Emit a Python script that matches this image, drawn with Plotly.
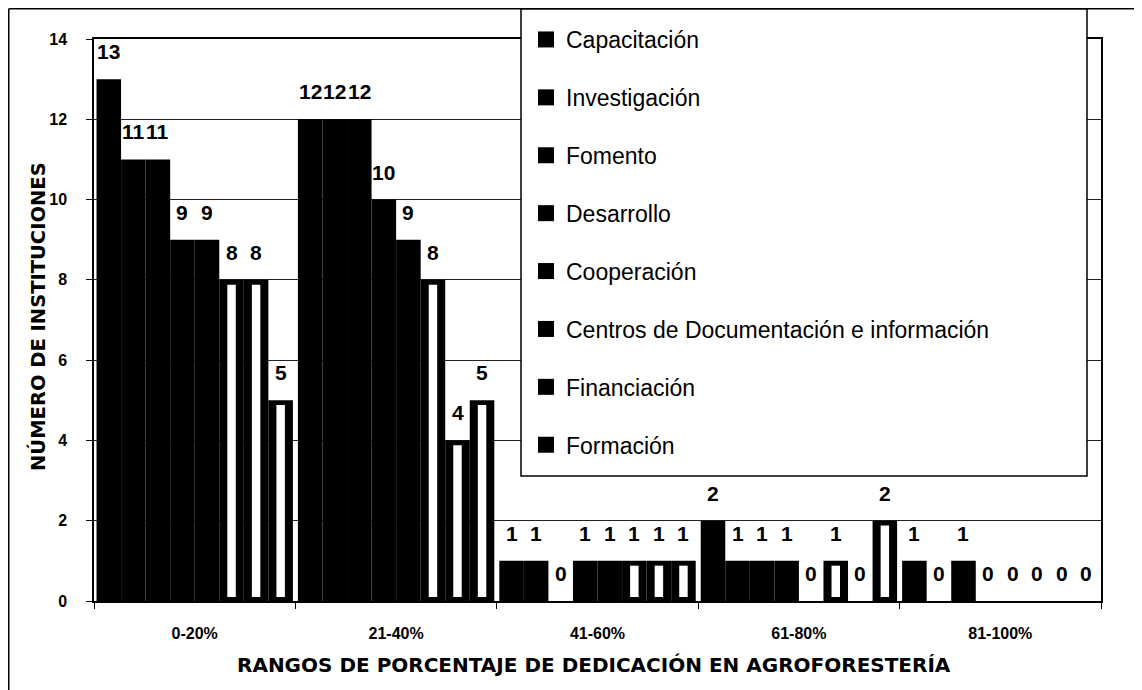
import plotly.graph_objects as go

categories = ["0-20%", "21-40%", "41-60%", "61-80%", "81-100%"]

series_names = [
    "Capacitación",
    "Investigación",
    "Fomento",
    "Desarrollo",
    "Cooperación",
    "Centros de Documentación e información",
    "Financiación",
    "Formación",
]

capacitacion = [13, 12, 1, 2, 1]
investigacion = [11, 12, 1, 1, 0]
fomento = [11, 12, 0, 1, 1]
desarrollo = [9, 10, 1, 1, 0]
cooperacion = [9, 9, 1, 0, 0]
centros = [8, 8, 1, 1, 0]
financiacion = [8, 4, 1, 0, 0]
formacion = [5, 5, 1, 2, 0]

series_values = [capacitacion, investigacion, fomento, desarrollo,
                 cooperacion, centros, financiacion, formacion]
striped = [False, False, False, False, False, True, True, True]

y_ticks = [0, 2, 4, 6, 8, 10, 12, 14]

x_title = "RANGOS DE PORCENTAJE DE DEDICACIÓN EN AGROFORESTERÍA"
y_title = "NÚMERO DE INSTITUCIONES"

FONT = "Liberation Sans, Arial, sans-serif"
TFONT = "DejaVu Sans, sans-serif"
BAR_W = 0.1219
OFF0 = -0.4875
STRIPE_W = 0.042

# layout geometry (pixels; page body adds an 8px offset)
W, H = 1134, 682
ML, MR, MT, MB = 86, 41, 31, 89
PW, PH = W - ML - MR, H - MT - MB


def px_x(p):
    return (p - ML) / PW


def px_y(p):
    return (H - MB - p) / PH


fig = go.Figure()

for i, (name, vals, st) in enumerate(zip(series_names, series_values, striped)):
    off = OFF0 + i * BAR_W
    fig.add_trace(go.Bar(
        x=categories, y=vals, name=name,
        width=[BAR_W] * len(vals), offset=[off] * len(vals),
        marker=dict(color="black", line=dict(width=0)),
        legendgroup=f"g{i}", showlegend=False,
    ))
    if st:
        sv = [v - 0.22 if v > 0 else None for v in vals]
        fig.add_trace(go.Bar(
            x=categories, y=sv, base=[0.1] * len(vals),
            width=[STRIPE_W] * len(vals),
            offset=[off + (BAR_W - STRIPE_W) / 2] * len(vals),
            marker=dict(color="white", line=dict(width=0)),
            showlegend=False, hoverinfo="skip", legendgroup=f"g{i}",
        ))
    # legend entry with a larger square swatch
    fig.add_trace(go.Scatter(
        x=[None], y=[None], mode="markers", name=name,
        marker=dict(symbol="square", size=16, color="black",
                    line=dict(width=0)),
        legendgroup=f"g{i}", showlegend=True, hoverinfo="skip",
    ))
    for ci, v in enumerate(vals):
        fig.add_annotation(
            x=ci + off + BAR_W / 2, y=v, xref="x", yref="y",
            text=str(v), showarrow=False, yanchor="bottom", yshift=14,
            font=dict(family=FONT, size=21, color="black", weight="bold"),
        )

fig.update_layout(
    width=W, height=H,
    margin=dict(l=ML, r=MR, t=MT, b=MB, autoexpand=False),
    paper_bgcolor="white", plot_bgcolor="white",
    barmode="overlay",
    showlegend=True,
    legend=dict(
        xref="container", yref="container",
        x=518 / W, y=1 - 10 / H, xanchor="left", yanchor="top",
        bgcolor="rgba(0,0,0,0)", borderwidth=0,
        font=dict(family=FONT, size=23, color="black"),
        tracegroupgap=25, traceorder="grouped",
        maxheight=600,
        itemclick=False, itemdoubleclick=False,
    ),
    font=dict(family=FONT, color="black"),
)

fig.update_xaxes(
    type="category", range=[-0.5, 4.5], automargin=False,
    showline=True, linecolor="black", linewidth=1.5, mirror=True,
    ticks="outside", tickson="boundaries", ticklen=6, tickcolor="black",
    ticklabelstandoff=17,
    tickfont=dict(family=FONT, size=16, color="black", weight="bold"),
    showgrid=False,
)
fig.update_yaxes(
    range=[0, 14], tickvals=y_ticks, automargin=False,
    showline=True, linecolor="black", linewidth=1.5, mirror=True,
    ticks="outside", ticklen=6, tickcolor="black",
    ticklabelstandoff=16,
    tickfont=dict(family=FONT, size=16, color="black", weight="bold"),
    showgrid=True, gridcolor="#222", gridwidth=1,
    zeroline=False,
)

# axis titles
fig.add_annotation(
    x=px_x(586), y=px_y(657), xref="paper", yref="paper",
    text=x_title, showarrow=False, xanchor="center", yanchor="middle",
    font=dict(family=TFONT, size=20, color="black", weight="bold"),
)
fig.add_annotation(
    x=px_x(30), y=px_y(309), xref="paper", yref="paper",
    text=y_title, showarrow=False, textangle=-90,
    xanchor="center", yanchor="middle",
    font=dict(family=TFONT, size=19.5, color="black", weight="bold"),
)

# legend box (white, covers the gridlines beneath it)
fig.add_shape(type="rect", xref="paper", yref="paper", layer="above",
              x0=px_x(513), x1=px_x(1079), y0=px_y(468), y1=px_y(0.75),
              fillcolor="white", line=dict(color="black", width=1.5))

# outer frame (left and top edges visible in the scan)
fig.add_shape(type="line", xref="paper", yref="paper",
              x0=px_x(0.75), x1=px_x(0.75), y0=px_y(H + 5), y1=px_y(0.75),
              line=dict(color="black", width=1.5))
fig.add_shape(type="line", xref="paper", yref="paper",
              x0=px_x(0.75), x1=px_x(W + 5), y0=px_y(0.75), y1=px_y(0.75),
              line=dict(color="black", width=1.5))

fig.write_html("out.html")
